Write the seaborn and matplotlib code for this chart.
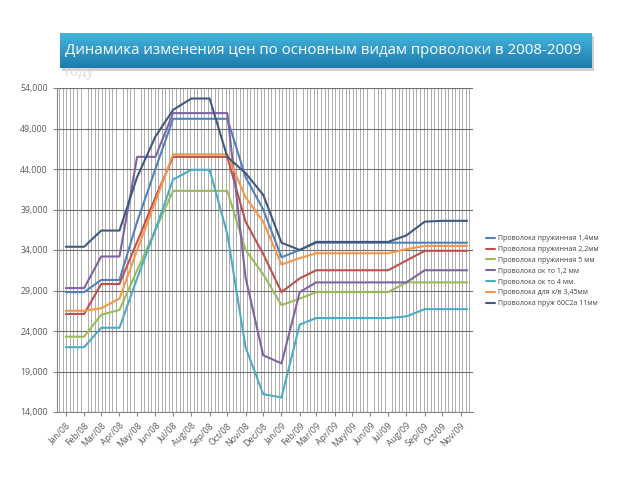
import numpy as np
import pandas as pd
import matplotlib
matplotlib.use('Agg')
import matplotlib.pyplot as plt
import matplotlib.dates as mdates
import seaborn as sns

# data (price per tonne, monthly points)
dates = ['2008-01-01', '2008-02-01', '2008-03-01', '2008-04-01', '2008-05-01', '2008-06-01',
         '2008-07-01', '2008-08-01', '2008-09-01', '2008-10-01', '2008-11-01', '2008-12-01',
         '2009-01-01', '2009-02-01', '2009-03-01', '2009-04-01', '2009-05-01', '2009-06-01',
         '2009-07-01', '2009-08-01', '2009-09-01', '2009-10-01', '2009-11-01', '2009-11-12']

spring_14 = [28800, 28800, 30300, 30300, 37500, 44000, 50200, 50200, 50200, 50200, 43000, 39000,
             33100, 34000, 34900, 34900, 34900, 34900, 34900, 34900, 34900, 34900, 34900, 34900]
spring_22 = [26100, 26100, 29800, 29800, 35000, 40500, 45500, 45500, 45500, 45500, 37500, 33500,
             28800, 30500, 31500, 31500, 31500, 31500, 31500, 32700, 33900, 33900, 33900, 33900]
spring_5 = [23300, 23300, 26000, 26600, 31500, 36500, 41300, 41300, 41300, 41300, 34000, 31000,
            27200, 28000, 28800, 28800, 28800, 28800, 28800, 30000, 30000, 30000, 30000, 30000]
ok_12 = [29300, 29300, 33200, 33200, 45500, 45500, 50900, 50900, 50900, 50900, 30600, 21000,
         20000, 28800, 30000, 30000, 30000, 30000, 30000, 30000, 31500, 31500, 31500, 31500]
ok_4 = [22000, 22000, 24400, 24400, 30500, 36500, 42700, 43900, 43900, 36000, 22000, 16200,
        15800, 24800, 25600, 25600, 25600, 25600, 25600, 25800, 26700, 26700, 26700, 26700]
hv_345 = [26500, 26500, 26800, 28000, 34000, 40000, 45800, 45800, 45800, 45800, 40500, 37500,
          32200, 33000, 33600, 33600, 33600, 33600, 33600, 34100, 34500, 34500, 34500, 34500]
spring_11 = [34400, 34400, 36400, 36400, 43000, 48000, 51300, 52700, 52700, 45500, 43500, 40800,
             34900, 34000, 35000, 35000, 35000, 35000, 35000, 35800, 37500, 37600, 37600, 37600]

labels = ['Проволока пружинная 1,4мм', 'Проволока пружинная 2,2мм', 'Проволока пружинная 5 мм',
          'Проволока ок то 1,2 мм', 'Проволока ок то 4 мм.', 'Проволока для х/в 3,45мм',
          'Проволока пруж 60С2а 11мм']
colors = ['#4F81BD', '#C0504D', '#9BBB59', '#8064A2', '#4BACC6', '#F79646', '#41597F']

series = [spring_14, spring_22, spring_5, ok_12, ok_4, hv_345, spring_11]
frames = []
for name, vals in zip(labels, series):
    frames.append(pd.DataFrame({'date': pd.to_datetime(dates), 'price': vals, 'series': name}))
df = pd.concat(frames, ignore_index=True)

sns.set_style('white')
plt.rcParams['font.family'] = ['Open Sans', 'DejaVu Sans']

fig = plt.figure(figsize=(6.4, 4.8), dpi=100)

# title banner with gradient and a soft shadow
sax = fig.add_axes([62 / 640, 1 - 71 / 480, 532 / 640, 35 / 480])
sax.set_facecolor('#D0D0D0')
sax.set_xticks([])
sax.set_yticks([])
for s in sax.spines.values():
    s.set_visible(False)
bax = fig.add_axes([60 / 640, 1 - 68 / 480, 532 / 640, 35 / 480])
grad = np.linspace(0, 1, 50).reshape(-1, 1)
cmap = matplotlib.colors.LinearSegmentedColormap.from_list('b', ['#45B4DE', '#1C7BAE'])
bax.imshow(grad, aspect='auto', cmap=cmap, extent=[0, 1, 0, 1])
bax.axis('off')
fig.text(65 / 640, 1 - 50 / 480, 'Динамика изменения цен по основным видам проволоки в 2008-2009',
         color='white', fontsize=10.8, va='center', ha='left')
fig.text(65 / 640, 1 - 73 / 480, 'году', color='#DCDCDC', fontsize=10, va='center', ha='left')

ax = fig.add_axes([57 / 640, 1 - 412 / 480, 416 / 640, 324 / 480])
sns.lineplot(data=df, x='date', y='price', hue='series', hue_order=labels, palette=colors,
             linewidth=1.5, ax=ax, sort=False)

ax.set_ylim(14000, 54000)
ax.set_yticks(np.arange(14000, 54001, 5000))
ax.yaxis.set_major_formatter(matplotlib.ticker.FuncFormatter(lambda v, p: f'{int(v):,}'))
ax.set_xlim(pd.Timestamp('2007-12-17'), pd.Timestamp('2009-11-22'))
ax.xaxis.set_major_locator(mdates.MonthLocator())
ax.xaxis.set_major_formatter(mdates.DateFormatter('%b/%y'))
ax.xaxis.set_minor_locator(mdates.DayLocator(interval=6))

ax.grid(True, which='major', axis='y', color='#707070', linewidth=0.8)
ax.grid(True, which='minor', axis='x', color='#A0A0A0', linewidth=0.6)
ax.set_axisbelow(True)

ax.tick_params(axis='both', which='major', labelsize=6.3, labelcolor='#595959', length=3,
               color='#868686', direction='out', bottom=True, left=True)
ax.tick_params(axis='x', which='minor', length=0)
plt.setp(ax.get_xticklabels(), rotation=45, ha='right', rotation_mode='anchor')
ax.set_xlabel('')
ax.set_ylabel('')
for s in ['top', 'right']:
    ax.spines[s].set_visible(False)
for s in ['left', 'bottom']:
    ax.spines[s].set_color('#868686')
    ax.spines[s].set_linewidth(0.8)

handles, labs = ax.get_legend_handles_labels()
ax.get_legend().remove()
fig.legend(handles, labs, loc='upper left', bbox_to_anchor=(480 / 640, 1 - 229 / 480),
           frameon=False, fontsize=5.0, handlelength=1.3, handletextpad=0.4,
           labelspacing=0.55, labelcolor='#404040')

fig.savefig('out.png', dpi=100)
